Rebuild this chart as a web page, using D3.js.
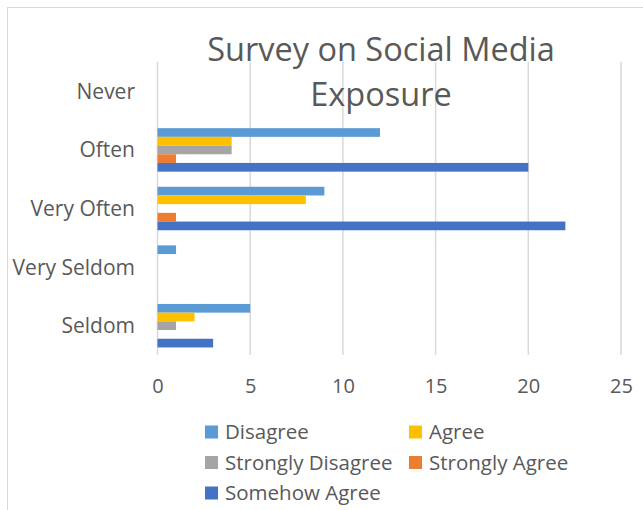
<!DOCTYPE html>
<html>
<head>
<meta charset="utf-8">
<script src="https://cdn.jsdelivr.net/npm/d3@7"></script>
<style>
  html, body { margin: 0; padding: 0; background: #fff; }
  svg { display: block; }
  text { font-family: "Open Sans", sans-serif; fill: #595959; }
</style>
</head>
<body>
<svg id="chart" width="643" height="510"></svg>
<script>
const categories = ["Never", "Often", "Very Often", "Very Seldom", "Seldom"];
const seriesNames = ["Disagree", "Agree", "Strongly Disagree", "Strongly Agree", "Somehow Agree"];
const seriesColors = ["#5B9BD5", "#FFC000", "#A5A5A5", "#ED7D31", "#4472C4"];
const disagree        = [0, 12, 9, 1, 5];
const agree           = [0, 4, 8, 0, 2];
const stronglyDisagree= [0, 4, 0, 0, 1];
const stronglyAgree   = [0, 1, 1, 0, 0];
const somehowAgree    = [0, 20, 22, 0, 3];
const seriesValues = [disagree, agree, stronglyDisagree, stronglyAgree, somehowAgree];
const xTicks = [0, 5, 10, 15, 20, 25];
const titleLines = ["Survey on Social Media", "Exposure"];

const svg = d3.select("#chart");

// outer chart border (only top & left visible)
svg.append("rect")
  .attr("x", 7.5).attr("y", 7.5)
  .attr("width", 700).attr("height", 600)
  .attr("fill", "none").attr("stroke", "#d9d9d9").attr("stroke-width", 1);

const plot = { left: 157.5, right: 621, top: 62, bottom: 355 };

const x = d3.scaleLinear().domain([0, 25]).range([plot.left, plot.right]);
const y = d3.scaleBand().domain(categories).range([plot.top, plot.bottom])
  .paddingInner(0.258).paddingOuter(0.129);
const ySub = d3.scaleBand().domain(seriesNames).range([0, y.bandwidth()]);

// gridlines
svg.append("g").selectAll("line").data(xTicks).join("line")
  .attr("x1", d => x(d)).attr("x2", d => x(d))
  .attr("y1", plot.top).attr("y2", plot.bottom)
  .attr("stroke", "#d9d9d9").attr("stroke-width", 1.5);

// bars
const groups = svg.append("g").selectAll("g").data(categories).join("g")
  .attr("transform", c => `translate(0,${y(c)})`);
groups.selectAll("rect")
  .data((c, ci) => seriesNames.map((s, si) => ({ s, si, v: seriesValues[si][ci] })))
  .join("rect")
  .attr("x", x(0))
  .attr("y", d => ySub(d.s))
  .attr("width", d => x(d.v) - x(0))
  .attr("height", ySub.bandwidth())
  .attr("fill", d => seriesColors[d.si]);

// x axis labels
const xAxis = d3.axisBottom(x).tickValues(xTicks).tickSize(0).tickPadding(0);
const xg = svg.append("g").attr("transform", `translate(0,${plot.bottom})`).call(xAxis);
xg.select(".domain").remove();
xg.selectAll("text").attr("font-size", 20).attr("font-family", "Open Sans, sans-serif")
  .attr("fill", "#595959").attr("dy", null).attr("y", 38);

// y axis labels
const yAxis = d3.axisLeft(y).tickSize(0).tickPadding(0);
const yg = svg.append("g").attr("transform", `translate(135,0)`).call(yAxis);
yg.select(".domain").remove();
yg.selectAll("text").attr("font-size", 21).attr("font-family", "Open Sans, sans-serif")
  .attr("fill", "#595959").attr("x", 0).attr("dy", "0.36em");

// title
svg.append("g").selectAll("text").data(titleLines).join("text")
  .attr("x", 381).attr("y", (d, i) => 60.5 + i * 45.5)
  .attr("text-anchor", "middle").attr("font-size", 32.5)
  .text(d => d);

// legend
const legendPos = [
  { x: 205, y: 432 }, { x: 409, y: 432 },
  { x: 205, y: 462.5 }, { x: 409, y: 462.5 },
  { x: 205, y: 493 }
];
const lg = svg.append("g").selectAll("g").data(seriesNames).join("g")
  .attr("transform", (d, i) => `translate(${legendPos[i].x},${legendPos[i].y})`);
lg.append("rect").attr("x", 0).attr("y", -6.5).attr("width", 13).attr("height", 13)
  .attr("fill", (d, i) => seriesColors[i]);
lg.append("text").attr("x", 20).attr("dy", "0.35em").attr("font-size", 20.5).text(d => d);
</script>
</body>
</html>
